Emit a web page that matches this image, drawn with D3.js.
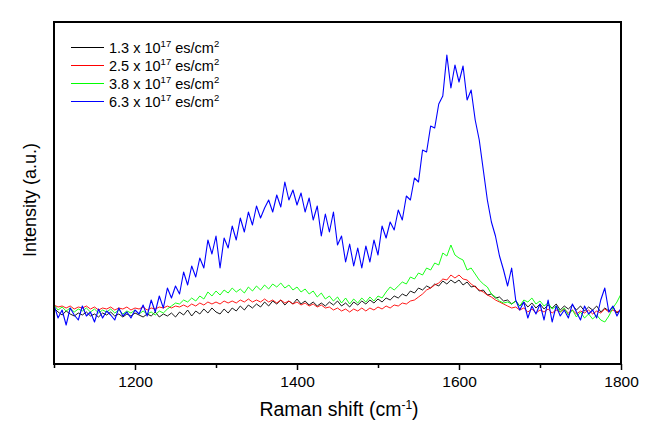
<!DOCTYPE html>
<html><head><meta charset="utf-8">
<script src="https://cdn.jsdelivr.net/npm/d3@7/dist/d3.min.js"></script>
<style>body{margin:0;background:#fff}svg{display:block}text{font-family:"Liberation Sans",Arial,sans-serif;fill:#000}</style>
</head><body><svg id="c" width="664" height="424"></svg>
<script>
// Raman shift from 1100 to 1800 cm-1, every 5 cm-1
const shiftStart = 1100, shiftStep = 5;
const seriesNames = ["1.3", "2.5", "3.8", "6.3"];
const seriesColors = ["#000000", "#ff0000", "#00ff00", "#0000ff"];
const xTicks = [1200, 1400, 1600, 1800];
const xMinorTicks = [1100, 1300, 1500, 1700];

const black = [
56,52,49,53,50,48,51,49,52,48,
50,47,51,49,52,48,50,47,50,48,
51,49,47,50,48,52,47,50,48,51,
47,52,49,54,48,53,50,55,51,56,
52,50,55,51,56,53,58,54,59,56,
60,57,62,58,63,60,64,59,63,60,
65,60,63,59,62,58,61,58,62,59,
63,58,61,57,62,59,63,60,64,61,
65,62,66,64,68,66,70,68,73,71,
76,74,78,76,80,78,83,80,84,81,
84,79,82,77,78,73,74,69,70,66,
67,63,64,60,63,58,62,57,61,56,
60,55,59,56,60,54,58,55,59,54,
58,53,57,54,58,52,56,53,57,51,
55];
const red = [
59,57,58,56,58,55,57,56,58,55,
57,54,56,55,57,54,56,55,57,54,
56,55,57,54,56,55,57,56,58,56,
58,57,59,57,60,58,61,59,62,60,
62,60,63,61,63,61,64,62,65,62,
64,62,65,62,64,61,64,61,63,60,
62,59,61,58,60,57,59,56,57,54,
56,53,55,52,55,53,56,53,56,54,
57,55,58,56,59,58,61,60,63,64,
67,70,74,76,79,81,85,84,89,86,
89,85,84,80,77,74,72,69,67,64,
62,60,58,56,57,54,56,52,55,51,
54,52,55,51,54,52,55,51,54,50,
53,51,54,50,53,51,55,52,54,52,
54];
const green = [
59,54,57,53,56,52,55,53,56,52,
55,51,54,52,55,51,54,50,53,51,
54,50,53,50,52,49,53,51,55,58,
61,60,64,62,66,63,68,65,72,68,
73,69,74,71,76,72,75,71,77,73,
78,74,79,75,80,77,81,76,79,74,
77,72,75,70,73,67,71,65,68,63,
67,61,66,60,65,61,66,62,67,63,
68,66,72,77,74,78,82,80,87,85,
91,89,96,94,101,99,111,108,119,109,
106,104,94,96,90,84,80,77,70,67,
63,61,62,60,63,58,64,62,66,60,
63,58,61,55,58,52,56,49,54,47,
52,46,50,45,49,44,42,48,56,62,
70];
const blue = [
59,46,54,39,56,49,44,58,48,52,
42,55,46,53,49,44,56,48,52,46,
54,50,59,48,64,52,68,56,76,66,
78,70,92,79,98,87,106,96,124,110,
128,96,126,116,138,124,146,132,152,139,
158,146,156,164,152,169,157,182,164,174,
159,171,152,166,144,158,128,150,132,152,
119,128,102,120,98,116,96,118,102,124,
109,138,126,142,134,154,144,168,164,186,
182,214,212,238,236,260,268,309,276,299,
282,298,264,274,244,224,194,164,142,128,
108,94,78,96,64,54,62,46,58,50,
60,44,64,42,58,48,54,46,60,52,
44,58,50,54,46,64,76,52,58,48,
56];

const allSeries = [black, red, green, blue];

const svg = d3.select("#c");
const L = 54, R = 621, T = 22, B = 364;
const x = d3.scaleLinear().domain([1100, 1800]).range([L, R]);
const y = d3.scaleLinear().domain([0, 342]).range([B, T]);

svg.append("clipPath").attr("id", "pc").append("rect")
  .attr("x", L).attr("y", T).attr("width", R - L).attr("height", B - T);

const line = d3.line().x((d, i) => x(shiftStart + i * shiftStep)).y(d => y(d));
const plot = svg.append("g").attr("clip-path", "url(#pc)");
allSeries.forEach((s, k) => {
  plot.append("path").datum(s).attr("d", line)
    .attr("fill", "none").attr("stroke", seriesColors[k])
    .attr("stroke-width", k === 3 ? 1.1 : 0.9).attr("stroke-linejoin", "round");
});

// frame
svg.append("rect").attr("x", L).attr("y", T).attr("width", R - L).attr("height", B - T)
  .attr("fill", "none").attr("stroke", "#000").attr("stroke-width", 2);

// x axis
const xAxis = d3.axisBottom(x).tickValues(xTicks).tickSize(6).tickPadding(6).tickFormat(d3.format("d"));
const ax = svg.append("g").attr("transform", `translate(0,${B})`).call(xAxis);
ax.select(".domain").remove();
ax.selectAll("line").attr("stroke-width", 1.5);
ax.selectAll("text").attr("font-size", 15.5).attr("font-family", "Liberation Sans, Arial, sans-serif").attr("fill", "#000");
const axm = svg.append("g").attr("transform", `translate(0,${B})`)
  .call(d3.axisBottom(x).tickValues(xMinorTicks).tickSize(4).tickFormat(""));
axm.select(".domain").remove();
axm.selectAll("line").attr("stroke-width", 1.5);

// axis titles
const xt = svg.append("text").attr("x", 339).attr("y", 416).attr("text-anchor", "middle").attr("font-size", 19.5);
xt.append("tspan").text("Raman shift (cm");
xt.append("tspan").attr("baseline-shift", "super").attr("font-size", 12).text("-1");
xt.append("tspan").text(")");

svg.append("text").attr("transform", `translate(36,200) rotate(-90)`)
  .attr("text-anchor", "middle").attr("font-size", 18).text("Intensity (a.u.)");

// legend
const legY = [47.5, 65.5, 83.5, 101.5];
seriesNames.forEach((n, k) => {
  svg.append("line").attr("x1", 71).attr("x2", 104).attr("y1", legY[k]).attr("y2", legY[k])
    .attr("stroke", seriesColors[k]).attr("stroke-width", 1);
  const t = svg.append("text").attr("x", 109).attr("y", legY[k] + 5.5).attr("font-size", 14.5);
  t.append("tspan").text(n + " x 10");
  t.append("tspan").attr("dy", -6).attr("font-size", 9.5).text("17");
  t.append("tspan").attr("dy", 6).text(" es/cm");
  t.append("tspan").attr("dy", -6).attr("font-size", 9.5).text("2");
});
</script></body></html>
